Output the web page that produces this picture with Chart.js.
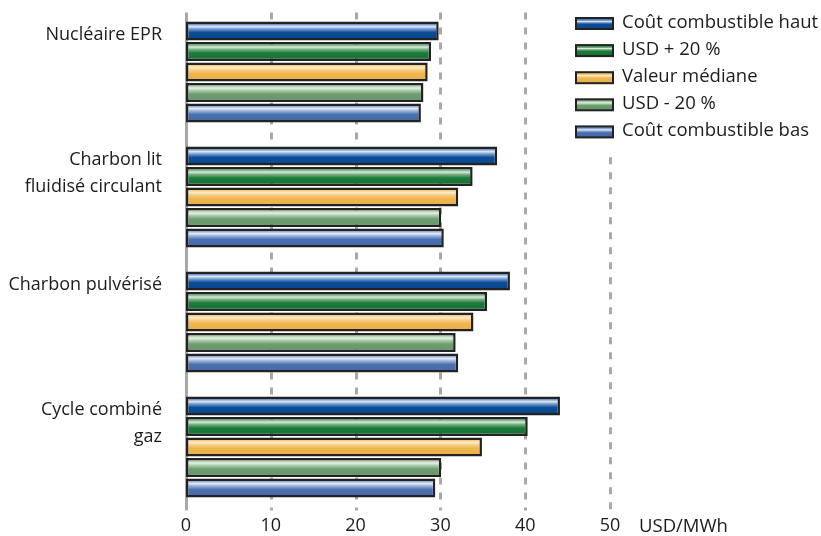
<!DOCTYPE html>
<html>
<head>
<meta charset="utf-8">
<script src="https://cdn.jsdelivr.net/npm/chart.js@4/dist/chart.umd.min.js"></script>
<style>
  html, body { margin: 0; padding: 0; background: #ffffff; }
  #wrap { width: 821px; height: 536px; }
</style>
</head>
<body>
<div id="wrap"><canvas id="c" width="821" height="536"></canvas></div>
<script>
// Production cost by technology, USD/MWh
const categories = [
  ['Nucléaire EPR'],
  ['Charbon lit', 'fluidisé circulant'],
  ['Charbon pulvérisé'],
  ['Cycle combiné', 'gaz']
];
const seriesNames = ['Coût combustible haut', 'USD + 20 %', 'Valeur médiane', 'USD - 20 %', 'Coût combustible bas'];
const coutHaut      = [29.8, 36.7, 38.2, 44.1];
const usdPlus20     = [28.9, 33.8, 35.5, 40.3];
const valeurMediane = [28.5, 32.1, 33.9, 34.9];
const usdMoins20    = [28.0, 30.1, 31.8, 30.1];
const coutBas       = [27.7, 30.4, 32.1, 29.4];
const xTicks = [0, 10, 20, 30, 40, 50];
const unitLabel = 'USD/MWh';

// Tube-like shading for each series
const palettes = [
  { edge: '#3a69ac', shine: '#dfe7f5', light: '#7198cd', base: '#0b4d97', dark: '#09468b' },
  { edge: '#358d4e', shine: '#d9ecda', light: '#72ae80', base: '#1b7b3a', dark: '#177034' },
  { edge: '#ebb45a', shine: '#fdecc9', light: '#f6cd82', base: '#efb64f', dark: '#e9ad46' },
  { edge: '#7cab7e', shine: '#e7f1e5', light: '#aacaa9', base: '#6d9e6f', dark: '#649468' },
  { edge: '#5e82bf', shine: '#e3e9f5', light: '#95aed9', base: '#4b70af', dark: '#4368a6' }
];
const FONT = '"Open Sans", "DejaVu Sans", sans-serif';
const TEXT = '#1c1c1c';
const GRID = '#a9a9a9';
const OUTLINE = '#222222';
const TICK_PAD = 6;

function tube(ctx, top, bottom, p) {
  const g = ctx.createLinearGradient(0, top, 0, bottom);
  g.addColorStop(0.00, p.edge);
  g.addColorStop(0.16, p.light);
  g.addColorStop(0.27, p.shine);
  g.addColorStop(0.40, p.light);
  g.addColorStop(0.58, p.base);
  g.addColorStop(1.00, p.dark);
  return g;
}

const legendBox = { x: 575, y: 17, w: 39, h: 13, step: 27.1, textGap: 8 };

const decor = {
  id: 'decor',
  beforeDatasetsDraw(chart) {
    const { ctx, chartArea } = chart;
    const xs = chart.scales.x;
    const top = chartArea.top + 3;
    const bottom = chartArea.bottom + 1;
    const legendBottom = legendBox.y + legendBox.step * (seriesNames.length - 1) + legendBox.h + 14;
    ctx.save();
    ctx.strokeStyle = GRID;
    ctx.lineWidth = 3;
    xTicks.forEach(v => {
      const x = Math.round(xs.getPixelForValue(v)) + 0.5;
      ctx.beginPath();
      if (v === 0) {
        ctx.setLineDash([]);
        ctx.moveTo(x, top); ctx.lineTo(x, bottom);
      } else {
        ctx.setLineDash([7, 8]);
        const y0 = v === xTicks[xTicks.length - 1] ? legendBottom : top;
        ctx.lineDashOffset = -((y0 - top) % 15);
        ctx.moveTo(x, y0); ctx.lineTo(x, bottom);
      }
      ctx.stroke();
    });
    ctx.restore();

    // shading of each bar follows its own position
    chart.data.datasets.forEach((ds, di) => {
      chart.getDatasetMeta(di).data.forEach(el => {
        const t = el.y - el.height / 2, b = el.y + el.height / 2;
        el.options.backgroundColor = tube(ctx, t, b, palettes[di]);
      });
    });
  },
  afterDraw(chart) {
    const { ctx, chartArea } = chart;
    const xs = chart.scales.x;
    ctx.save();
    ctx.fillStyle = TEXT;
    ctx.font = '18px ' + FONT;
    ctx.textBaseline = 'middle';

    // category labels, aligned with the top bar of each group
    ctx.textAlign = 'right';
    const firstBars = chart.getDatasetMeta(0).data;
    categories.forEach((lines, i) => {
      const y0 = firstBars[i].y + 4;
      lines.forEach((line, k) => ctx.fillText(line, chartArea.left - 24, y0 + k * 27));
    });

    // unit after the last tick
    ctx.textAlign = 'left';
    ctx.font = '18.5px ' + FONT;
    const tickY = xs.top + TICK_PAD + 11;
    ctx.fillText(unitLabel, xs.getPixelForValue(xTicks[xTicks.length - 1]) + 29, tickY);

    // legend
    ctx.font = '18.5px ' + FONT;
    chart.data.datasets.forEach((ds, i) => {
      const bx = legendBox.x, by = legendBox.y + i * legendBox.step;
      ctx.fillStyle = OUTLINE;
      ctx.fillRect(bx, by, legendBox.w, legendBox.h);
      ctx.fillStyle = tube(ctx, by + 2, by + legendBox.h - 2, palettes[i]);
      ctx.fillRect(bx + 2, by + 2, legendBox.w - 4, legendBox.h - 4);
      ctx.fillStyle = TEXT;
      ctx.fillText(ds.label, bx + legendBox.w + legendBox.textGap, by + legendBox.h / 2 - 1);
    });
    ctx.restore();
  }
};

const seriesValues = [coutHaut, usdPlus20, valeurMediane, usdMoins20, coutBas];

new Chart(document.getElementById('c'), {
  type: 'bar',
  data: {
    labels: categories.map(l => l.join(' ')),
    datasets: seriesValues.map((vals, i) => ({
      label: seriesNames[i],
      data: vals,
      backgroundColor: () => palettes[i].base,
      borderColor: OUTLINE,
      borderWidth: 2.5,
      borderSkipped: false,
      categoryPercentage: 0.82,
      barPercentage: 0.93
    }))
  },
  options: {
    indexAxis: 'y',
    responsive: false,
    animation: false,
    devicePixelRatio: 1,
    layout: { padding: { top: 9.5, left: 186, right: 211, bottom: 0 } },
    plugins: { legend: { display: false }, tooltip: { enabled: false } },
    scales: {
      x: {
        type: 'linear',
        min: 0,
        max: 50,
        afterBuildTicks: s => { s.ticks = xTicks.map(v => ({ value: v })); },
        afterFit: s => { s.height = 26.5; },
        grid: { display: false, drawTicks: false },
        border: { display: false },
        ticks: { color: TEXT, font: { family: FONT, size: 18 }, padding: TICK_PAD }
      },
      y: {
        type: 'category',
        display: false,
        grid: { display: false }
      }
    }
  },
  plugins: [decor]
});
</script>
</body>
</html>
